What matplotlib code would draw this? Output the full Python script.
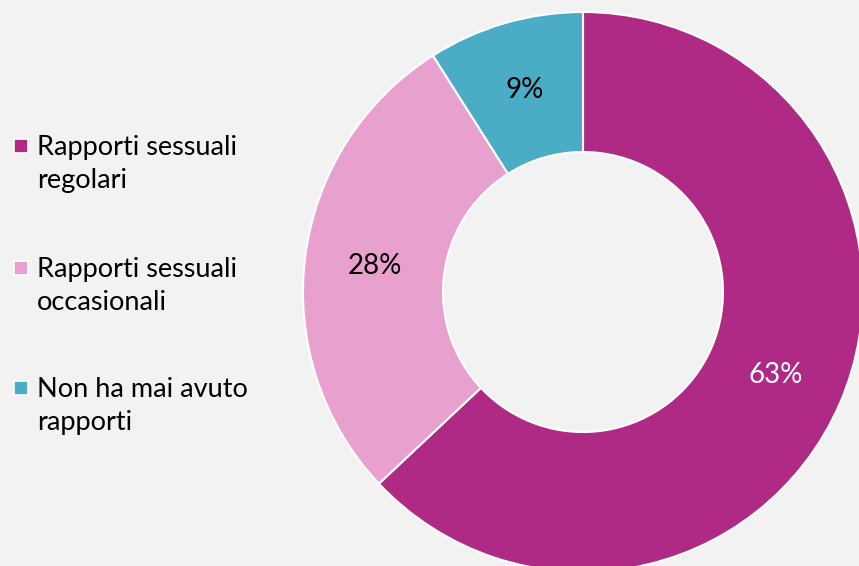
import matplotlib
matplotlib.use("Agg")
import matplotlib.pyplot as plt
from matplotlib.patches import Rectangle

categories = ["Rapporti sessuali\nregolari", "Rapporti sessuali\noccasionali", "Non ha mai avuto\nrapporti"]
values = [63, 28, 9]
colors = ["#AF2A84", "#E8A0CF", "#4BACC6"]
label_colors = ["white", "black", "black"]

plt.rcParams['font.family'] = ['Lato', 'DejaVu Sans']
bg = "#F2F2F2"
W, H = 859, 566
fig = plt.figure(figsize=(W/100, H/100), dpi=100, facecolor=bg)

cx, cy, R = 583, 566-292, 280
ax = fig.add_axes([(cx-R)/W, (cy-R)/H, 2*R/W, 2*R/H])
ax.set_facecolor(bg)
wedges, texts, autotexts = ax.pie(values, colors=colors, startangle=90, counterclock=False,
    radius=1, autopct='%d%%', pctdistance=0.75,
    wedgeprops=dict(width=0.5, edgecolor='white', linewidth=1.5),
    textprops=dict(fontsize=20))
for t, c in zip(autotexts, label_colors):
    t.set_color(c)
ax.set_xlim(-1, 1); ax.set_ylim(-1, 1)
ax.set_aspect('equal')
ax.axis('off')

# legend drawn manually
ys = [146, 268, 388]
for lab, col, y in zip(categories, colors, ys):
    s = 14
    fig.patches.append(Rectangle(((21 - s/2)/W, (H - y - s/2)/H), s/W, s/H, transform=fig.transFigure,
                                 facecolor=col, edgecolor='white', linewidth=1.2))
    fig.text(37/W, (H - y + 11)/H, lab, fontsize=19.5, va='top', ha='left', linespacing=1.42)

fig.savefig("out.png", dpi=100, facecolor=bg)
